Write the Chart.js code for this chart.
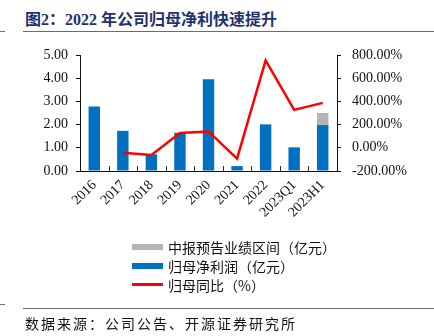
<!DOCTYPE html>
<html>
<head>
<meta charset="utf-8">
<script src="https://cdn.jsdelivr.net/npm/chart.js@4"></script>
<style>
  html, body { margin: 0; padding: 0; background: #fff; }
  #page { position: relative; width: 434px; height: 336px; overflow: hidden; }
  #chart { position: absolute; left: 0; top: 0; }
  .title {
    position: absolute; left: 25px; top: 6px;
    font: bold 16px "Liberation Serif", "Noto Sans CJK SC", serif;
    color: #1f326e; white-space: nowrap;
  }
  .rule { position: absolute; height: 1px; background: #6b6b6b; }
  .source {
    position: absolute; left: 25px; top: 313px;
    font: 14px "Noto Sans CJK SC", serif; color: #111; letter-spacing: 2px; white-space: nowrap;
  }
  #legend { position: absolute; left: 132px; top: 237px; }
  .item { height: 19px; display: flex; align-items: center;
    font: 14px "Noto Sans CJK SC", serif; color: #111; white-space: nowrap; }
  .sw { width: 31px; margin-right: 5px; }
</style>
</head>
<body>
<div id="page">
  <div class="title">图2：2022 年公司归母净利快速提升</div>
  <div class="rule" style="left:0;top:31px;width:5px"></div>
  <div class="rule" style="left:23px;top:31px;width:411px"></div>
  <canvas id="chart" width="434" height="336"></canvas>
  <div id="legend"></div>
  <div class="rule" style="left:0;top:304px;width:5px"></div>
  <div class="rule" style="left:23px;top:308px;width:411px"></div>
  <div class="source">数据来源：公司公告、开源证券研究所</div>
</div>
<script>
// 期间
const categories = ['2016', '2017', '2018', '2019', '2020', '2021', '2022', '2023Q1', '2023H1'];
// 归母净利润（亿元）
const netProfit = [2.78, 1.73, 0.72, 1.65, 3.95, 0.21, 2.01, 1.02, 1.98];
// 中报预告业绩区间（亿元），叠加在 2023H1 之上
const forecastRange = [null, null, null, null, null, null, null, null, 0.52];
// 归母同比（%）
const yoyGrowth = [null, -43, -62, 127, 141, -94, 754, 327, 387];
// 坐标轴刻度
const leftTicks = [0, 1, 2, 3, 4, 5];
const rightTicks = [-200, 0, 200, 400, 600, 800];

const serif = '"Liberation Serif", "Times New Roman", serif';

// 类目之间朝内的小刻度
const innerTicks = {
  id: 'innerTicks',
  afterDatasetsDraw(chart) {
    const x = chart.scales.x, ctx = chart.ctx, bottom = chart.chartArea.bottom;
    ctx.save();
    ctx.strokeStyle = '#333';
    ctx.lineWidth = 1;
    for (let i = 1; i < categories.length; i++) {
      const px = Math.round((x.getPixelForTick(i - 1) + x.getPixelForTick(i)) / 2) + 0.5;
      ctx.beginPath();
      ctx.moveTo(px, bottom);
      ctx.lineTo(px, bottom - 5);
      ctx.stroke();
    }
    ctx.restore();
  }
};

const chart = new Chart(document.getElementById('chart'), {
  data: {
    labels: categories,
    datasets: [
      { type: 'line', label: '归母同比（%）', data: yoyGrowth, yAxisID: 'y1',
        borderColor: '#ff0000', backgroundColor: '#ff0000', borderWidth: 2.5,
        pointRadius: 0, tension: 0, order: 0 },
      { type: 'bar', label: '归母净利润（亿元）', data: netProfit, yAxisID: 'y',
        backgroundColor: '#0070c0', barPercentage: 0.4, categoryPercentage: 1, order: 1, stack: 's' },
      { type: 'bar', label: '中报预告业绩区间（亿元）', data: forecastRange, yAxisID: 'y',
        backgroundColor: '#b4b4b4', barPercentage: 0.4, categoryPercentage: 1, order: 1, stack: 's' }
    ]
  },
  options: {
    responsive: false,
    animation: false,
    layout: { padding: { top: 55, bottom: 105, left: 0, right: 0 } },
    plugins: { legend: { display: false }, tooltip: { enabled: false } },
    scales: {
      x: {
        stacked: true,
        grid: { display: false, drawTicks: false },
        border: { display: true, color: '#111', width: 1 },
        ticks: { font: { family: serif, size: 14 }, color: '#111', maxRotation: 45, minRotation: 45, padding: 6 },
        afterFit(s) { s.height = 60; }
      },
      y: {
        position: 'left', stacked: true, min: 0, max: 5,
        afterBuildTicks(s) { s.ticks = leftTicks.map(v => ({ value: v })); },
        grid: { drawOnChartArea: false, drawTicks: true, tickLength: 4, color: '#111' },
        border: { display: true, color: '#111', width: 1 },
        ticks: { font: { family: serif, size: 14 }, color: '#111', padding: 8,
          callback: v => Number(v).toFixed(2) },
        afterFit(s) { s.width = 80; }
      },
      y1: {
        position: 'right', min: -200, max: 800,
        afterBuildTicks(s) { s.ticks = rightTicks.map(v => ({ value: v })); },
        grid: { drawOnChartArea: false, drawTicks: true, tickLength: 4, color: '#111' },
        border: { display: true, color: '#111', width: 1 },
        ticks: { font: { family: serif, size: 14 }, color: '#111', padding: 11,
          callback: v => Number(v).toFixed(2) + '%' },
        afterFit(s) { s.width = 97; }
      }
    }
  },
  plugins: [innerTicks]
});

// 纵向图例：预告区间、净利润、同比
const legendOrder = [2, 1, 0];
const legend = document.getElementById('legend');
legendOrder.forEach(i => {
  const ds = chart.data.datasets[i];
  const row = document.createElement('div');
  row.className = 'item';
  const sw = document.createElement('span');
  sw.className = 'sw';
  if (ds.type === 'line') {
    sw.style.height = '3px';
    sw.style.background = ds.borderColor;
  } else {
    sw.style.height = '6px';
    sw.style.background = ds.backgroundColor;
  }
  row.appendChild(sw);
  row.appendChild(document.createTextNode(ds.label));
  legend.appendChild(row);
});
</script>
</body>
</html>
